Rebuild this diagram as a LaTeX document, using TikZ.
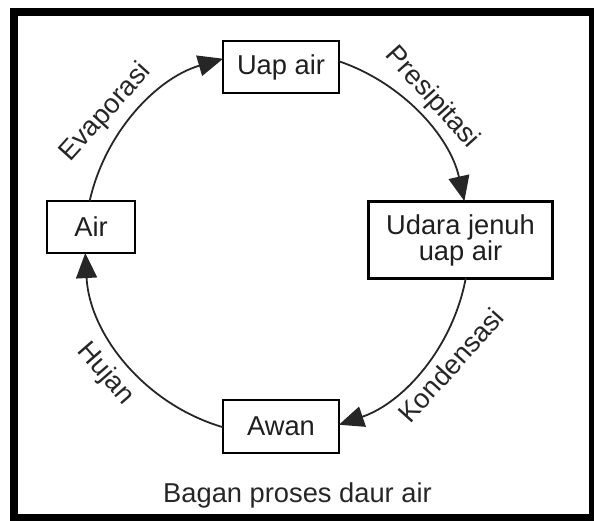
\documentclass[tikz,border=0pt]{standalone}
\usepackage{fontspec}
\setmainfont{Liberation Sans}
\usetikzlibrary{arrows.meta,calc}
\begin{document}
\begin{tikzpicture}[x=1pt,y=1pt,
  box/.style={draw=black,line width=2.6pt,fill=white,inner sep=0pt,text=black!88,
    font=\fontsize{27.3}{26}\selectfont,align=center},
  cyc/.style={draw=black!85,line width=1.8pt,-{Triangle[length=25pt,width=21pt]}},
  lbl/.style={font=\fontsize{27.3}{26}\selectfont,text=black!85,inner sep=0pt}]
\useasboundingbox (0,0) rectangle (594,520);
\draw[line width=8pt] (13.5,2) rectangle (593,507.5);
\coordinate (C) at (277,277);
\node[box,minimum width=116pt,minimum height=52pt] (uap) at (281,453) {Uap air};
\node[box,minimum width=88pt,minimum height=52pt] (air) at (91,293) {Air};
\node[box,minimum width=184pt,minimum height=77pt] (udara) at (460.5,280) {Udara jenuh\\uap air};
\node[box,minimum width=116pt,minimum height=53pt] (awan) at (281,93.5) {Awan};
% arc end points on the circle
\coordinate (e0) at ($(C)+(167.4:192)$);
\coordinate (p0) at ($(C)+(71.2:192)$);
\coordinate (k0) at ($(C)+(-10.5:192)$);
\coordinate (h0) at ($(C)+(253.7:192)$);
\draw[cyc] (e0) arc[start angle=167.4,end angle=106.3,radius=192];
\draw[cyc] (p0) arc[start angle=71.2,end angle=12.6,radius=192];
\draw[cyc] (k0) arc[start angle=-10.5,end angle=-71.2,radius=192];
\draw[cyc] (h0) arc[start angle=253.7,end angle=183,radius=192];
\node[lbl,rotate=48] (evap) at (106,407.5) {Evaporasi};
\node[lbl,rotate=-48] (pres) at (432,422) {Presipitasi};
\node[lbl,rotate=48] (kond) at (451,155) {Kondensasi};
\node[lbl,rotate=-49] (huj) at (105,146) {Hujan};
\node[lbl,anchor=base] (cap) at (297.5,18) {Bagan proses daur air};
\end{tikzpicture}
\end{document}
